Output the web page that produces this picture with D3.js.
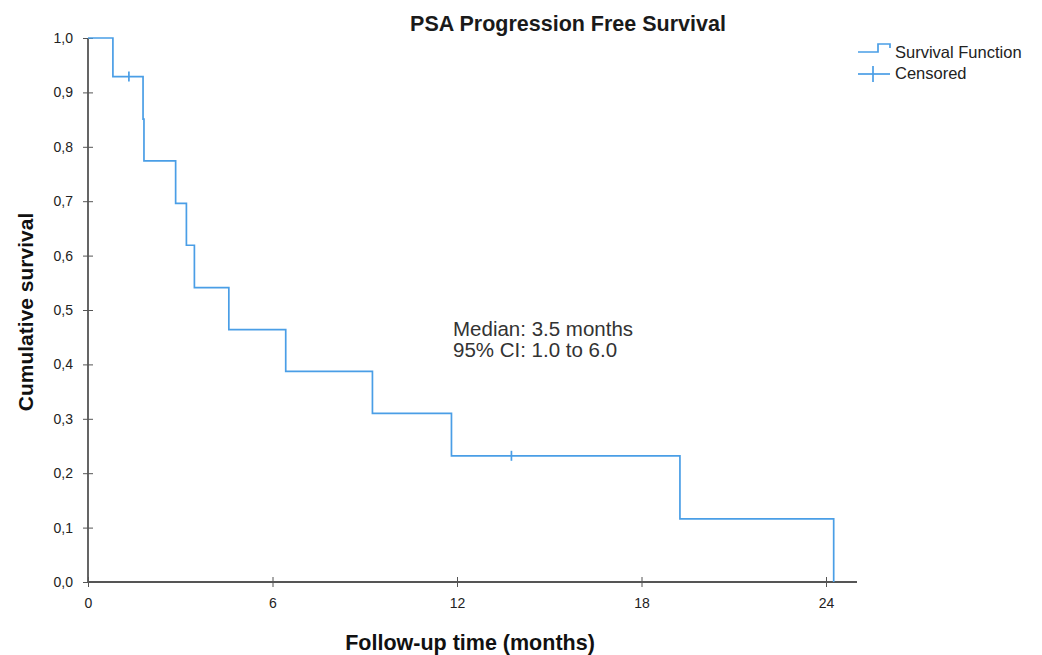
<!DOCTYPE html>
<html>
<head>
<meta charset="utf-8">
<script src="https://cdn.jsdelivr.net/npm/d3@7"></script>
<style>
  body { margin: 0; background: #fff; }
  svg { display: block; font-family: "Liberation Sans", Arial, sans-serif; }
</style>
</head>
<body>
<div id="chart"></div>
<script>
// ----------- DATA ------------
const stepTimes = [0, 0.81, 1.79, 1.82, 2.85, 3.2, 3.46, 4.58, 6.43, 9.25, 11.82, 19.25, 24.25];
const stepSurvival = [1.0, 0.929, 0.851, 0.774, 0.696, 0.619, 0.541, 0.464, 0.387, 0.310, 0.232, 0.116, 0.0];
const censorTimes = [1.33, 13.77];
const censorSurvival = [0.929, 0.232];
const xTicks = [0, 6, 12, 18, 24];
const yTicks = [0, 0.1, 0.2, 0.3, 0.4, 0.5, 0.6, 0.7, 0.8, 0.9, 1.0];
const legendLabels = ['Survival Function', 'Censored'];
const annotation = ['Median: 3.5 months', '95% CI: 1.0 to 6.0'];

const lineColor = '#4a9ee6';
const axisColor = '#555';

// ----------- SVG ------------
const svg = d3.select('#chart')
  .append('svg')
  .attr('width', 1042)
  .attr('height', 655);

const x = d3.scaleLinear().domain([0, 24]).range([88, 826]);
const y = d3.scaleLinear().domain([0, 1]).range([582, 38]);

// title
svg.append('text')
  .attr('x', 568).attr('y', 31)
  .attr('text-anchor', 'middle')
  .style('font-weight', 'bold')
  .style('font-size', '21.5px')
  .style('fill', '#1a1a1a')
  .text('PSA Progression Free Survival');

// ----------- AXES ------------
const gx = svg.append('g')
  .attr('transform', `translate(0, ${y(0)})`)
  .call(d3.axisBottom(x).tickValues(xTicks).tickSizeOuter(0).tickFormat(d3.format('d')));
gx.select('.domain').remove();
gx.append('line')
  .attr('x1', x(0)).attr('x2', 857)
  .attr('stroke', axisColor).attr('stroke-width', 1.8);
gx.selectAll('.tick line').attr('y1', -5).attr('y2', 5).attr('stroke', axisColor);
gx.selectAll('.tick text')
  .attr('y', 16)
  .style('font-size', '14px')
  .style('fill', '#222');

const gy = svg.append('g')
  .attr('transform', `translate(${x(0)}, 0)`)
  .call(d3.axisLeft(y).tickValues(yTicks).tickSizeOuter(0)
    .tickFormat(d => d3.format('.1f')(d).replace('.', ',')));
gy.select('.domain').remove();
gy.append('line')
  .attr('y1', y(0)).attr('y2', y(1))
  .attr('stroke', axisColor).attr('stroke-width', 1.8);
gy.selectAll('.tick line').attr('x1', -5).attr('x2', 5).attr('stroke', axisColor);
gy.selectAll('.tick text')
  .attr('x', -15)
  .style('font-size', '14px')
  .style('fill', '#222');

// axis titles
svg.append('text')
  .attr('transform', 'translate(33, 312) rotate(-90)')
  .attr('text-anchor', 'middle')
  .style('font-weight', 'bold')
  .style('font-size', '21px')
  .style('fill', '#111')
  .text('Cumulative survival');

svg.append('text')
  .attr('x', 470).attr('y', 650)
  .attr('text-anchor', 'middle')
  .style('font-weight', 'bold')
  .style('font-size', '21.5px')
  .style('fill', '#111')
  .text('Follow-up time (months)');

// ----------- SURVIVAL STEP ------------
const steps = stepTimes.map((t, i) => ({ t: t, s: stepSurvival[i] }));
const line = d3.line()
  .x(d => x(d.t))
  .y(d => y(d.s))
  .curve(d3.curveStepAfter);

svg.append('path')
  .datum(steps)
  .attr('d', line)
  .attr('fill', 'none')
  .attr('stroke', lineColor)
  .attr('stroke-width', 1.7);

// censored marks
const cens = censorTimes.map((t, i) => ({ t: t, s: censorSurvival[i] }));
svg.selectAll('.censor')
  .data(cens)
  .enter()
  .append('line')
  .attr('class', 'censor')
  .attr('x1', d => x(d.t)).attr('x2', d => x(d.t))
  .attr('y1', d => y(d.s) - 5).attr('y2', d => y(d.s) + 5)
  .attr('stroke', lineColor)
  .attr('stroke-width', 1.7);

// ----------- ANNOTATION ------------
svg.append('text')
  .selectAll('tspan')
  .data(annotation)
  .enter()
  .append('tspan')
  .attr('x', 453)
  .attr('y', (d, i) => 336 + i * 21)
  .style('font-size', '20.5px')
  .style('fill', '#333')
  .text(d => d);

// ----------- LEGEND ------------
const legend = svg.append('g').attr('transform', 'translate(858, 52)');
legend.append('path')
  .attr('d', 'M0,0 H20 V-8 H32 V-4')
  .attr('fill', 'none')
  .attr('stroke', lineColor)
  .attr('stroke-width', 1.7);
legend.append('line')
  .attr('x1', 0).attr('x2', 32).attr('y1', 22).attr('y2', 22)
  .attr('stroke', lineColor).attr('stroke-width', 1.7);
legend.append('line')
  .attr('x1', 15).attr('x2', 15).attr('y1', 14).attr('y2', 30)
  .attr('stroke', lineColor).attr('stroke-width', 1.7);
legend.selectAll('.leg-text')
  .data(legendLabels)
  .enter()
  .append('text')
  .attr('class', 'leg-text')
  .attr('x', 37)
  .attr('y', (d, i) => 6 + i * 21)
  .style('font-size', '16.5px')
  .style('fill', '#222')
  .text(d => d);
</script>
</body>
</html>
